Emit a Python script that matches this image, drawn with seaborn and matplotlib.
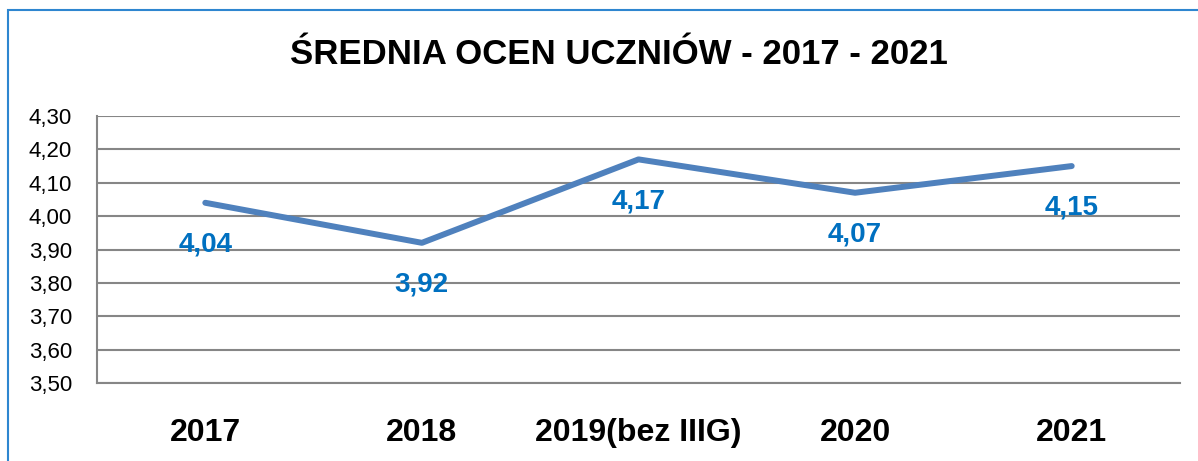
import matplotlib
matplotlib.use("Agg")

import pandas as pd
import numpy as np
import matplotlib.pyplot as plt
import seaborn as sns
from matplotlib.patches import Rectangle

# data
lata = ["2017", "2018", "2019(bez IIIG)", "2020", "2021"]
srednie = [4.04, 3.92, 4.17, 4.07, 4.15]

df = pd.DataFrame({"rok": lata, "srednia": srednie})

sns.set_style("white")
plt.rcParams["font.family"] = ["Liberation Sans", "DejaVu Sans"]
plt.rcParams["text.color"] = "black"
plt.rcParams["xtick.labelcolor"] = "black"
plt.rcParams["ytick.labelcolor"] = "black"

fig = plt.figure(figsize=(11.98, 4.61), dpi=100)
ax = fig.add_axes([97 / 1198, 1 - 383 / 461, (1180 - 97) / 1198, (383 - 116) / 461])

sns.lineplot(data=df, x="rok", y="srednia", ax=ax, color="#4F81BD",
             linewidth=4.3, sort=False)

# etykiety danych pod punktami
for i, v in enumerate(srednie):
    ax.annotate(f"{v:.2f}".replace(".", ","), (i, v), xytext=(0, -30),
                textcoords="offset points", ha="center", va="center",
                fontsize=20, fontweight="bold", color="#0070C0")

ax.set_xlim(-0.5, 4.5)
ax.set_ylim(3.5, 4.3)
yt = np.round(np.arange(3.5, 4.31, 0.1), 2)
ax.set_yticks(yt)
ax.set_yticklabels([f"{t:.2f}".replace(".", ",") for t in yt], fontsize=16)
ax.set_xticks(range(len(lata)))
ax.set_xticklabels(lata, fontsize=23, fontweight="bold")
ax.set_xticks(np.arange(-0.5, 4.6, 1), minor=True)
ax.tick_params(axis="x", which="major", length=0, pad=25, labelcolor="black")
ax.tick_params(axis="x", which="minor", length=8, width=1.5, color="#868686")
ax.tick_params(axis="y", length=6, width=1.5, color="#868686", pad=12,
               labelcolor="black")
ax.set_xlabel("")
ax.set_ylabel("")

ax.yaxis.grid(True, color="#868686", linewidth=1.5)
ax.set_axisbelow(True)
for s in ["top", "right"]:
    ax.spines[s].set_visible(False)
for s in ["left", "bottom"]:
    ax.spines[s].set_color("#868686")
    ax.spines[s].set_linewidth(1.5)

fig.text(619 / 1198, 1 - 55 / 461, "ŚREDNIA OCEN UCZNIÓW - 2017 - 2021",
         ha="center", va="center", fontsize=25, fontweight="bold",
         color="black")

# ramka wykresu
fig.patches.append(Rectangle((7.5 / 1198, -0.1), 1.2, 1.1 - 10.5 / 461,
                             transform=fig.transFigure, fill=False,
                             edgecolor="#2E86D0", linewidth=1.5))

fig.savefig("out.png", dpi=100)
plt.close()
